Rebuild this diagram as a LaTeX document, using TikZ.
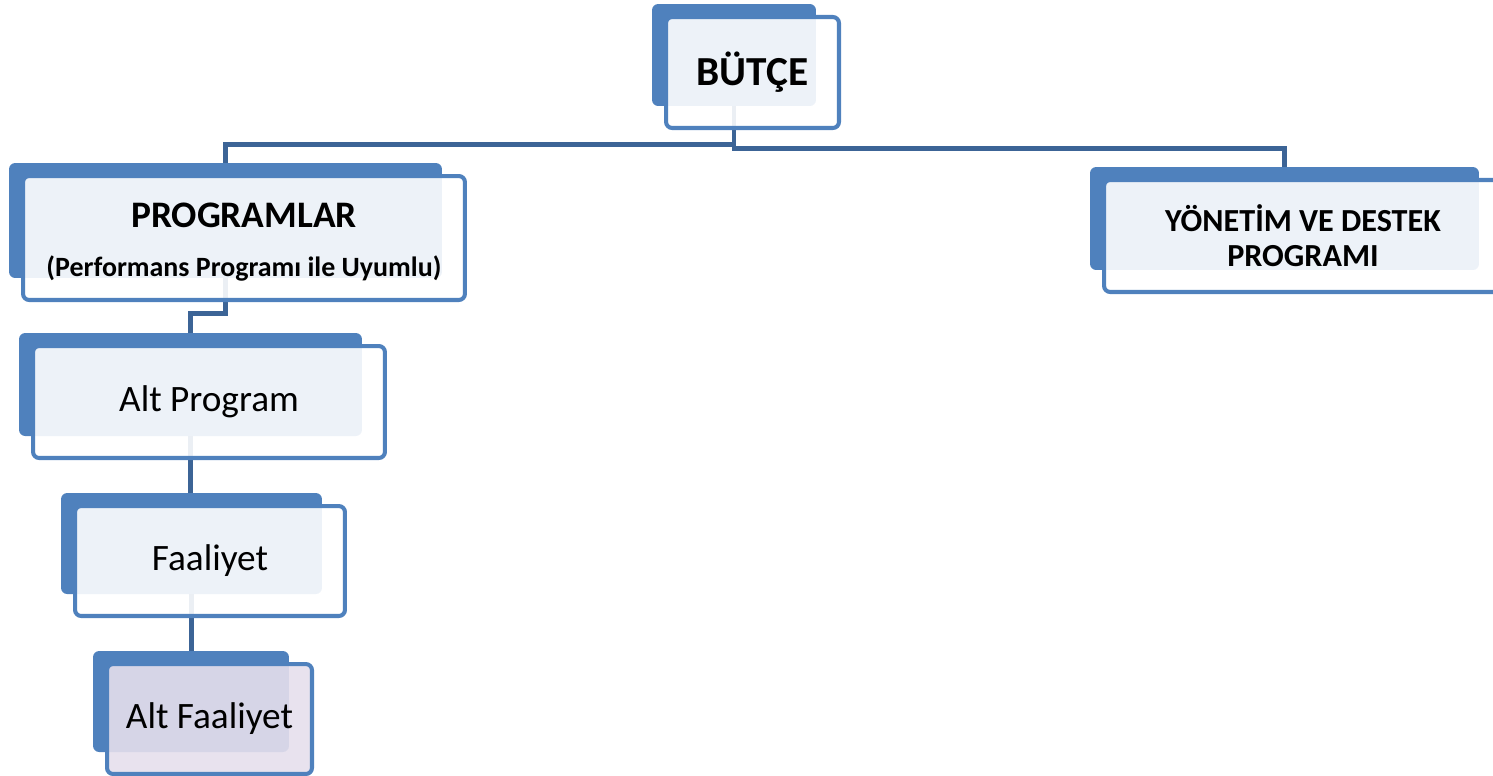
\documentclass[tikz,border=0pt]{standalone}
\usepackage{fontspec}
\setmainfont{Carlito}
\usepackage{tikz}
\usetikzlibrary{calc,positioning}
\definecolor{smblue}{RGB}{79,129,189}
\definecolor{smline}{RGB}{60,100,150}
\definecolor{smlilac}{RGB}{229,223,236}

\begin{document}
\begin{tikzpicture}[x=0.02cm,y=-0.02cm,
  back/.style={fill=smblue,rounded corners=3.5pt,inner sep=0pt},
  front/.style={draw=smblue,line width=2.3pt,fill=white,fill opacity=0.9,text opacity=1,
    rounded corners=3.5pt,inner sep=0pt,align=center},
  conn/.style={draw=smline,line width=2.8pt},
  big/.style={font=\fontsize{23.5}{28}\selectfont\bfseries},
  plain/.style={font=\fontsize{21.2}{25}\selectfont}]
\useasboundingbox (0,0) rectangle (1493,775);
\clip (0,0) rectangle (1493,775);

% back boxes
\node[back,minimum width=3.28cm,minimum height=2.04cm] (butce) at (734,55) {};
\node[back,minimum width=8.66cm,minimum height=2.30cm] (prog) at (225.5,220.5) {};
\node[back,minimum width=7.78cm,minimum height=2.06cm] (yonetim) at (1284.5,218.5) {};
\node[back,minimum width=6.86cm,minimum height=2.06cm] (altprog) at (190.5,384.5) {};
\node[back,minimum width=5.22cm,minimum height=2.02cm] (faal) at (191.5,543.5) {};
\node[back,minimum width=3.92cm,minimum height=2.02cm] (altfaal) at (191,701.5) {};

% connectors
\draw[conn] (butce.south) -- ++(0,38) -| (prog.north);
\draw[conn] (butce.south) -- ++(0,42) -| (yonetim.north);
\draw[conn] (prog.south) -- ++(0,35) -| (altprog.north);
\draw[conn] (altprog.south) -- (altprog.south |- faal.north);
\draw[conn] (faal.south) -- (faal.south |- altfaal.north);

% front boxes
\node[front,big,minimum width=3.46cm,minimum height=2.22cm] (butcetext) at ($(butce.center)+(18.5,17.5)$) {BÜTÇE};
\node[front,minimum width=8.84cm,minimum height=2.48cm] (progtext) at ($(prog.center)+(18.5,17.5)$)
  {\rule{0pt}{19pt}{\fontsize{21.3}{28.6}\selectfont\bfseries PROGRAMLAR}\\[16pt]{\fontsize{15.9}{18}\selectfont\bfseries (Performans Programı ile Uyumlu)}};
\node[front,font=\fontsize{18.3}{20}\selectfont\bfseries,minimum width=7.96cm,minimum height=2.24cm] (yonetimtext) at ($(yonetim.center)+(18.5,17.5)$)
  {YÖNETİM VE DESTEK\\PROGRAMI};
\node[front,plain,minimum width=7.04cm,minimum height=2.24cm] (altprogtext) at ($(altprog.center)+(18.5,17.5)$) {Alt Program};
\node[front,plain,minimum width=5.40cm,minimum height=2.20cm] (faaltext) at ($(faal.center)+(18.5,17.5)$) {Faaliyet};
\node[front,plain,fill=smlilac,minimum width=4.10cm,minimum height=2.20cm] (altfaaltext) at ($(altfaal.center)+(18.5,17.5)$) {Alt Faaliyet};
\end{tikzpicture}
\end{document}
